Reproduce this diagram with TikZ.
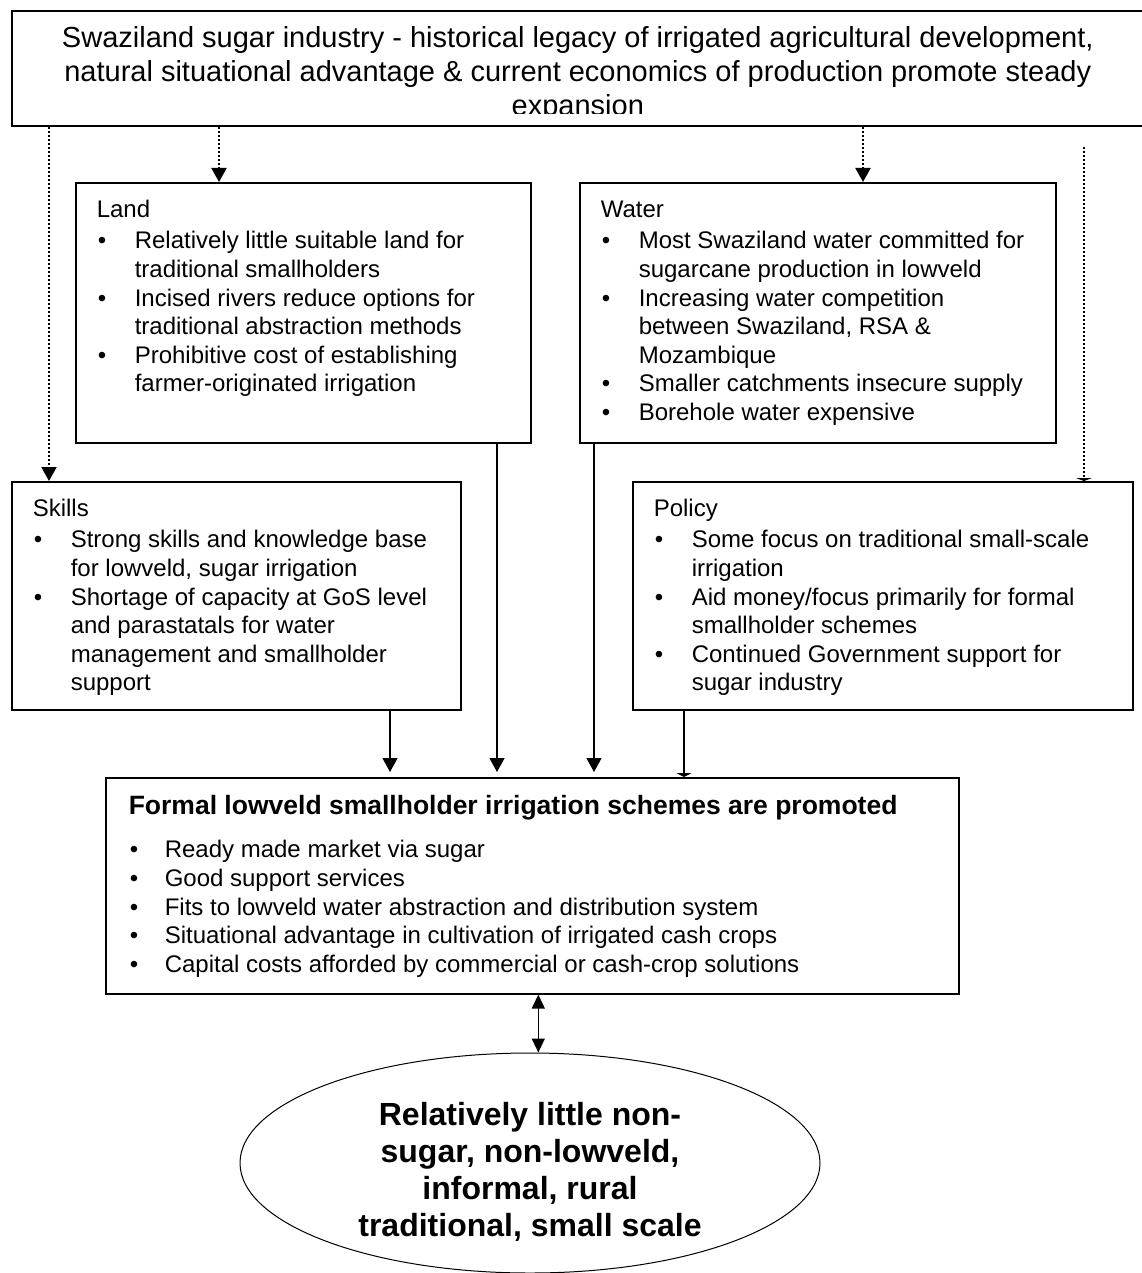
\documentclass[tikz,border=0pt]{standalone}
\usepackage{fontspec}
\setmainfont{Liberation Sans}
\usetikzlibrary{arrows.meta, shapes.geometric}

\newenvironment{blist}[2][19pt]{\begin{list}{\hspace{0.5pt}\textbullet\hfill}{%
  \setlength{\leftmargin}{#1}\setlength{\labelwidth}{#1}\setlength{\labelsep}{0pt}%
  \setlength{\itemsep}{0pt}\setlength{\parsep}{0pt}\setlength{\topsep}{#2}\setlength{\partopsep}{0pt}}}{\end{list}}

\begin{document}
\begin{tikzpicture}[
x=0.5pt, y=-0.5pt,
panel/.style={draw, line width=0.8pt, fill=white, anchor=north west, inner xsep=10.5pt, inner ysep=7.5pt, font=\fontsize{12}{14.3}\selectfont},
headtext/.style={anchor=north, align=center, inner sep=0pt, font=\fontsize{14.5}{17}\selectfont},
oval/.style={ellipse, draw, line width=0.5pt, minimum width=290pt, minimum height=110pt, inner sep=0pt},
ovaltext/.style={align=center, inner sep=0pt, font=\fontsize{16}{18.6}\selectfont\bfseries},
arr/.style={-{Triangle[length=7pt,width=7.5pt]}, line width=0.75pt},
dotarr/.style={arr, line width=1pt, dash pattern=on 1pt off 1pt}
]
\useasboundingbox (0,0) rectangle (1141,1273);
%Nodes
\node[draw, line width=0.8pt, anchor=north west, minimum width=566pt, minimum height=57.5pt, inner sep=0pt] (Head) at (11,10) {};
\begin{scope}
\clip (Head.north west) rectangle ([yshift=6.5pt]Head.south east);
\node[headtext] (HeadTxt) at ([yshift=-8pt]Head.north) {Swaziland sugar industry - historical legacy of irrigated agricultural development,\\natural situational advantage \& current economics of production promote steady\\expansion};
\end{scope}

\node[panel] (Land) at (75,182) {\parbox[t][115pt][t]{206.5pt}{\raggedright\strut Land\par
\begin{blist}{1.2pt}
\item Relatively little suitable land for\newline traditional smallholders
\item Incised rivers reduce options for\newline traditional abstraction methods
\item Prohibitive cost of establishing\newline farmer-originated irrigation
\end{blist}}};

\node[panel] (Water) at (579,182) {\parbox[t][115pt][t]{217pt}{\raggedright\strut Water\par
\begin{blist}{1.2pt}
\item Most Swaziland water committed for\newline sugarcane production in lowveld
\item Increasing water competition\newline between Swaziland, RSA \&\newline Mozambique
\item Smaller catchments insecure supply
\item Borehole water expensive
\end{blist}}};

\node[panel] (Skills) at (11,481) {\parbox[t][99pt][t]{203.5pt}{\raggedright\strut Skills\par
\begin{blist}{1.2pt}
\item Strong skills and knowledge base\newline for lowveld, sugar irrigation
\item Shortage of capacity at GoS level\newline and parastatals for water\newline management and smallholder\newline support
\end{blist}}};

\node[panel] (Policy) at (632,481) {\parbox[t][99pt][t]{229pt}{\raggedright\strut Policy\par
\begin{blist}{1.2pt}
\item Some focus on traditional small-scale\newline irrigation
\item Aid money/focus primarily for formal\newline smallholder schemes
\item Continued Government support for\newline sugar industry
\end{blist}}};

\node[panel, inner xsep=11.5pt, inner ysep=7.65pt] (Formal) at (105,777) {\parbox[t][92.7pt][t]{403.5pt}{\raggedright{\fontsize{13.25}{15.5}\selectfont\bfseries\strut Formal lowveld smallholder irrigation schemes are promoted\par}
\begin{blist}[18pt]{7.2pt}
\item Ready made market via sugar
\item Good support services
\item Fits to lowveld water abstraction and distribution system
\item Situational advantage in cultivation of irrigated cash crops
\item Capital costs afforded by commercial or cash-crop solutions
\end{blist}}};

\node[oval] (Ell) at (530,1163) {};
\node[ovaltext] (EllTxt) at ([yshift=-4.5pt]Ell.center) {Relatively little non-\\sugar, non-lowveld,\\informal, rural\\traditional, small scale};

%Lines
\coordinate (SkT) at ([xshift=19pt]Skills.north west);
\draw[dotarr] (SkT |- Head.south) -- (SkT);
\coordinate (LaT) at ([xshift=72pt]Land.north west);
\draw[dotarr] (LaT |- Head.south) -- (LaT);
\coordinate (WaT) at ([xshift=142pt]Water.north west);
\draw[dotarr] (WaT |- Head.south) -- (WaT);
\coordinate (PoT) at (1084,147);
\draw[dotarr, -{Triangle[length=1.5pt,width=8pt]}] (PoT) -- (PoT |- Policy.north);

\coordinate (SkB) at ([xshift=189.5pt]Skills.south west);
\draw[arr, shorten >=2.5pt] (SkB) -- (SkB |- Formal.north);
\coordinate (LaB) at ([xshift=211pt]Land.south west);
\draw[arr, shorten >=2.5pt] (LaB) -- (LaB |- Formal.north);
\coordinate (WaB) at ([xshift=7.5pt]Water.south west);
\draw[arr, shorten >=2.5pt] (WaB) -- (WaB |- Formal.north);
\coordinate (PoB) at ([xshift=26pt]Policy.south west);
\draw[arr, -{Triangle[length=2pt,width=7.5pt]}] (PoB) -- (PoB |- Formal.north);

\coordinate (FoB) at ([xshift=3pt]Formal.south);
\draw[arr, {Triangle[length=7pt,width=6.5pt]}-{Triangle[length=7pt,width=6.5pt]}] (FoB) -- (FoB |- Ell.north);
\end{tikzpicture}
\end{document}
